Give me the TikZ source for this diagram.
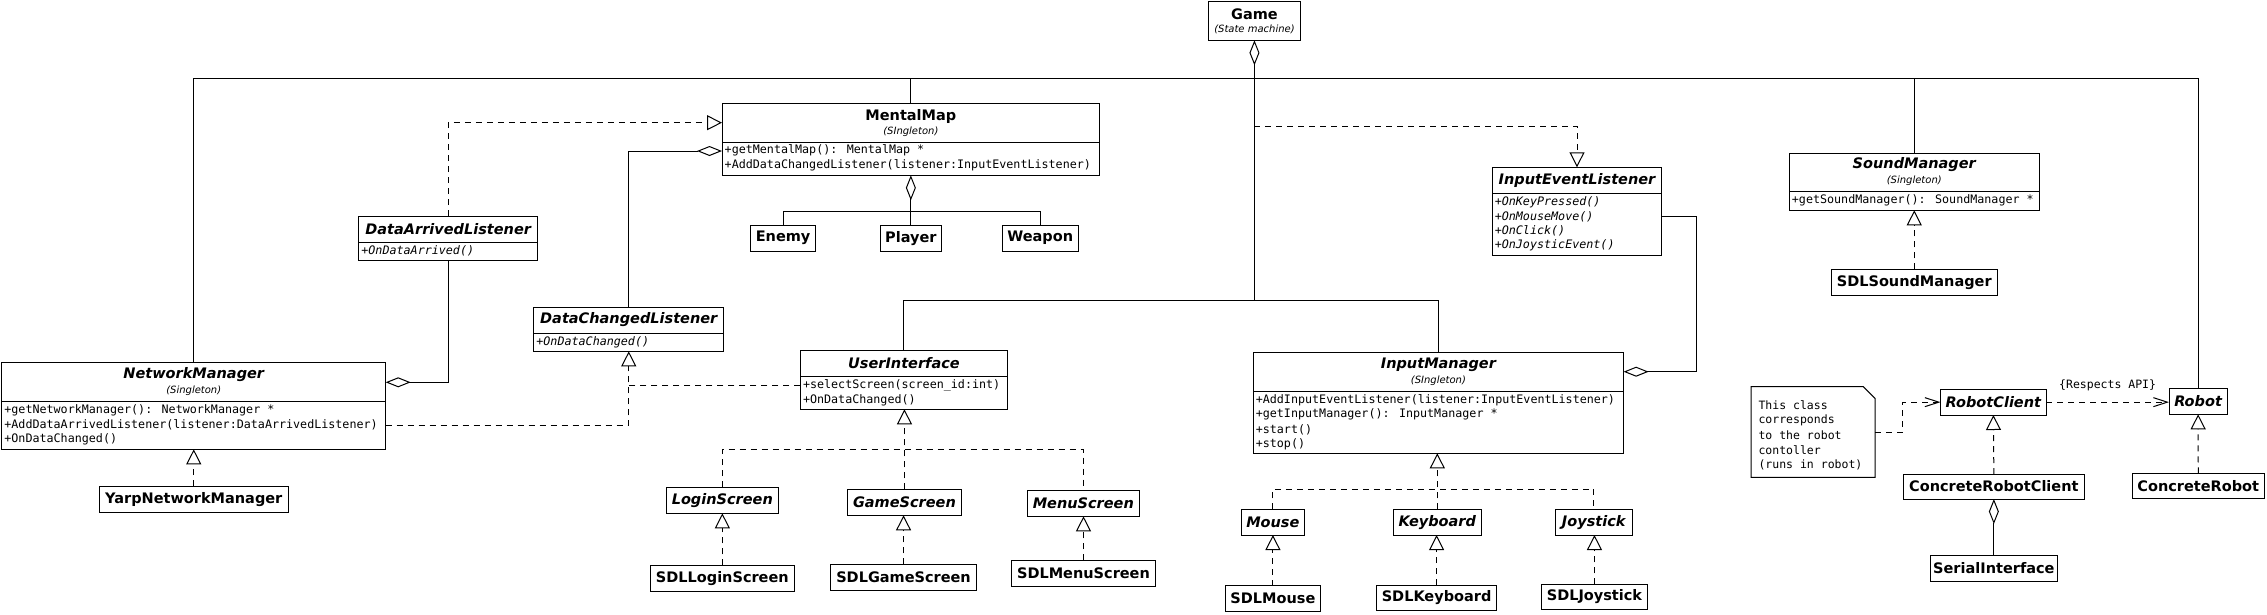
\documentclass[tikz,border=0pt]{standalone}
\usepackage{fontspec}
\setmainfont{DejaVu Sans}
\newfontfamily\monof{DejaVu Sans Mono}
\usetikzlibrary{arrows.meta,calc}
\tikzset{
 lw/.style={line width=1pt},
 ubox/.style={draw, lw, rectangle, inner sep=0pt, outer sep=0pt, fill=white},
 tt/.style={font=\fontsize{14.5}{16}\selectfont\bfseries, inner sep=0pt},
 tti/.style={font=\fontsize{14.5}{16}\selectfont\bfseries\itshape, inner sep=0pt},
 st/.style={font=\fontsize{10}{12}\selectfont\itshape, inner sep=0pt},
 me/.style={font=\monof\fontsize{11.7}{14}\selectfont, anchor=west, inner sep=0pt},
 mei/.style={font=\monof\fontsize{11.7}{14}\selectfont\itshape, anchor=west, inner sep=0pt},
 nt/.style={font=\monof\fontsize{11.5}{14}\selectfont, anchor=west, inner sep=0pt},
 dl/.style={lw, dash pattern=on 6pt off 5pt},
 real/.style={dl, -{Triangle[open,length=15pt,width=15pt]}},
 agge/.style={lw, -{Diamond[open,length=25pt,width=10pt]}},
 aggs/.style={lw, {Diamond[open,length=25pt,width=10pt]}-},
 dep/.style={dl, -{Straight Barb[length=14pt,width=9pt]}},
}
% [opts]{name}{x1}{y1}{x2}{y2}{text}
\newcommand\ubox[7][]{\node[ubox,#1,minimum width={#5-#3},minimum height={#6-#4},anchor=north west] (#2) at (#3,#4) {#7};}
\newcommand\udiv[2]{\draw[lw] (#1.west |- 0,#2) -- (#1.east |- 0,#2);}
\begin{document}
\begin{tikzpicture}[x=1pt,y=-1pt]
\fill[white] (0,0) rectangle (2267,614);
\useasboundingbox (0,0) rectangle (2267,614);

% ---------- boxes ----------
\ubox{game}{1208.2}{1}{1300.7}{40.3}{}
\node[tt] (gameT) at (game.north |- 0,14) {Game};
\node[st] (gameS) at (game.north |- 0,29.3) {(State machine)};

\ubox{mm}{722}{103.3}{1099.7}{175.3}{}
\udiv{mm}{142.7}
\node[tt] (mmT) at (mm.north |- 0,116) {MentalMap};
\node[st] (mmS) at (mm.north |- 0,131.3) {(SIngleton)};
\node[me] (mm1) at (724.5,150.7) {+getMentalMap(): MentalMap *};
\node[me] (mm2) at (724.5,165.3) {+AddDataChangedListener(listener:InputEventListener)};

\ubox[tt]{enemy}{750.4}{225.3}{815.8}{251}{Enemy}
\ubox[tt]{player}{880.1}{225.3}{941.7}{251}{Player}
\ubox[tt]{weapon}{1002.2}{225.3}{1078.3}{251}{Weapon}

\ubox{dal}{358.9}{216}{537.5}{260.3}{}
\udiv{dal}{242.3}
\node[tti] (dalT) at (dal.north |- 0,229.3) {DataArrivedListener};
\node[mei] (dal1) at (361.2,251) {+OnDataArrived()};

\ubox{dcl}{533.9}{307.3}{723.6}{351.3}{}
\udiv{dcl}{333.3}
\node[tti] (dclT) at (dcl.north |- 0,320) {DataChangedListener};
\node[mei] (dcl1) at (536.2,342) {+OnDataChanged()};

\ubox{nm}{1.8}{362.7}{385.7}{449.3}{}
\udiv{nm}{401.3}
\node[tti] (nmT) at (nm.north |- 0,374.7) {NetworkManager};
\node[st] (nmS) at (nm.north |- 0,390.3) {(Singleton)};
\node[me] (nm1) at (4.2,410) {+getNetworkManager(): NetworkManager *};
\node[me] (nm2) at (4.2,424.5) {+AddDataArrivedListener(listener:DataArrivedListener)};
\node[me] (nm3) at (4.2,439) {+OnDataChanged()};

\ubox[tt]{yarp}{99.3}{486}{288.2}{512.3}{YarpNetworkManager}

\ubox{ui}{800.4}{350.3}{1007.5}{409.3}{}
\udiv{ui}{376.7}
\node[tti] (uiT) at (ui.north |- 0,362.7) {UserInterface};
\node[me] (ui1) at (802.8,385) {+selectScreen(screen\_id:int)};
\node[me] (ui2) at (802.8,400) {+OnDataChanged()};

\ubox[tti]{login}{666.4}{487}{778.2}{513.3}{LoginScreen}
\ubox[tti]{gamescr}{847.5}{489.3}{961.4}{515.3}{GameScreen}
\ubox[tti]{menu}{1027.3}{490.3}{1139.3}{516.3}{MenuScreen}
\ubox[tt]{sdllogin}{650.4}{565.3}{794.3}{591.3}{SDLLoginScreen}
\ubox[tt]{sdlgame}{830.7}{564.3}{976.4}{590.3}{SDLGameScreen}
\ubox[tt]{sdlmenu}{1011.3}{560.3}{1155.7}{586.3}{SDLMenuScreen}

\ubox{iel}{1492.3}{167.3}{1661.7}{255}{}
\udiv{iel}{193.3}
\node[tti] (ielT) at (iel.north |- 0,180) {InputEventListener};
\node[mei] (iel1) at (1494.6,202.7) {+OnKeyPressed()};
\node[mei] (iel2) at (1494.6,216.9) {+OnMouseMove()};
\node[mei] (iel3) at (1494.6,231.1) {+OnClick()};
\node[mei] (iel4) at (1494.6,245.3) {+OnJoysticEvent()};

\ubox{im}{1253.2}{352.3}{1623.6}{453.3}{}
\udiv{im}{391.3}
\node[tti] (imT) at (im.north |- 0,365) {InputManager};
\node[st] (imS) at (im.north |- 0,380.7) {(SIngleton)};
\node[me] (im1) at (1255.6,400) {+AddInputEventListener(listener:InputEventListener)};
\node[me] (im2) at (1255.6,414.5) {+getInputManager(): InputManager *};
\node[me] (im3) at (1255.6,429.5) {+start()};
\node[me] (im4) at (1255.6,444) {+stop()};

\ubox[tti]{mouse}{1241.4}{509.3}{1304.3}{535}{Mouse}
\ubox[tti]{keyboard}{1393.2}{509.3}{1481.4}{535}{Keyboard}
\ubox[tti]{joystick}{1555.4}{509.3}{1632.1}{535}{Joystick}
\ubox[tt]{sdlmouse}{1225.4}{585.7}{1320.4}{611.3}{SDLMouse}
\ubox[tt]{sdlkeyboard}{1376.4}{585}{1496.8}{610}{SDLKeyboard}
\ubox[tt]{sdljoystick}{1541.8}{584.3}{1647.1}{609}{SDLJoystick}

\ubox{sm}{1789.3}{153.3}{2039.2}{210.3}{}
\udiv{sm}{191.7}
\node[tti] (smT) at (sm.north |- 0,165) {SoundManager};
\node[st] (smS) at (sm.north |- 0,181) {(Singleton)};
\node[me] (sm1) at (1791.7,200) {+getSoundManager(): SoundManager *};
\ubox[tt]{sdlsm}{1831.3}{269.3}{1997.2}{295.3}{SDLSoundManager}

% note
\node[inner sep=0pt, outer sep=0pt, minimum width=124pt, minimum height=90.6pt, anchor=north west] (note) at (1751,386.7) {};
\draw[lw] (note.north west) -- ($(note.north east)+(-11.7,0)$) -- ($(note.north east)+(0,11.7)$) -- (note.south east) -- (note.south west) -- cycle;
\node[nt] (n1) at (1758.3,405.3) {This class};
\node[nt] (n2) at (1758.3,420.3) {corresponds};
\node[nt] (n3) at (1758.3,435.1) {to the robot};
\node[nt] (n4) at (1758.3,449.9) {contoller};
\node[nt] (n5) at (1758.3,464.9) {(runs in robot)};

\ubox[tti]{rc}{1940.5}{389.3}{2046.2}{415}{RobotClient}
\ubox[tti]{robot}{2169}{388.3}{2227.2}{414.3}{Robot}
\ubox[tt]{crc}{1903.5}{474}{2084.2}{499}{ConcreteRobotClient}
\ubox[tt]{crobot}{2132.3}{473.3}{2264.2}{498}{ConcreteRobot}
\ubox[tt]{serial}{1930.4}{555.3}{2057.3}{581.3}{SerialInterface}

% ---------- connectors ----------
\draw[lw] (nm.north) -- (nm.north |- 0,78.3) -- (robot.north |- 0,78.3) -- (robot.north);
\draw[lw] (mm.north) -- (mm.north |- 0,78.3);
\draw[lw] (sm.north) -- (sm.north |- 0,78.3);
\draw[aggs] (game.south) -- (game.south |- 0,300.7);
\draw[lw] (ui.north) -- (ui.north |- 0,300.7) -- (im.north |- 0,300.7) -- (im.north);

\draw[real] (game.south |- 0,126) -| (iel.north);
\coordinate (ielc) at (1696,371.7);
\draw[agge] (iel.east |- 0,216.7) -| (ielc) -- (im.east |- ielc);

\draw[aggs] (mm.south) -- (mm.south |- 0,211.3);
\draw[lw] (enemy.north) |- (weapon.north |- 0,211.3) -- (weapon.north);
\draw[lw] (player.north) -- (player.north |- 0,211.3);

\draw[real] (dal.north) |- (mm.west |- 0,122.7);
\draw[agge] (dcl.north) |- (mm.west |- 0,151);
\draw[agge] (dal.south) |- (nm.east |- 0,382.3);
\draw[real] (nm.east |- 0,425.3) -| (dcl.south);
\draw[dl] (ui.west |- 0,385.3) -- (dcl.south |- 0,385.3);

\draw[real] (gamescr.north) -- (gamescr.north |- ui.south);
\draw[dl] (login.north) |- (menu.north |- 0,449.3) -- (menu.north);
\draw[real] (sdllogin.north) -- (sdllogin.north |- login.south);
\draw[real] (sdlgame.north) -- (sdlgame.north |- gamescr.south);
\draw[real] (sdlmenu.north) -- (sdlmenu.north |- menu.south);

\draw[real] (keyboard.north) -- (keyboard.north |- im.south);
\draw[dl] (mouse.north) |- (joystick.north |- 0,489.3) -- (joystick.north);
\draw[real] (sdlmouse.north) -- (sdlmouse.north |- mouse.south);
\draw[real] (sdlkeyboard.north) -- (sdlkeyboard.north |- keyboard.south);
\draw[real] (sdljoystick.north) -- (sdljoystick.north |- joystick.south);

\draw[real] (yarp.north) -- (nm.south);
\draw[real] (sdlsm.north) -- (sm.south);

\coordinate (notec) at (1902.8,432);
\draw[dep] (note.east |- notec) -- (notec) |- (rc.west);
\draw[dep] (rc.east) -- (robot.west |- rc.east) node[midway, yshift=16.5pt, font=\monof\fontsize{11.5}{14}\selectfont, inner sep=0pt] (api) {\{Respects API\}};
\draw[real] (crc.north) -- (rc.south);
\draw[aggs] (crc.south) -- (serial.north);
\draw[real] (crobot.north) -- (robot.south);
\end{tikzpicture}
\end{document}
